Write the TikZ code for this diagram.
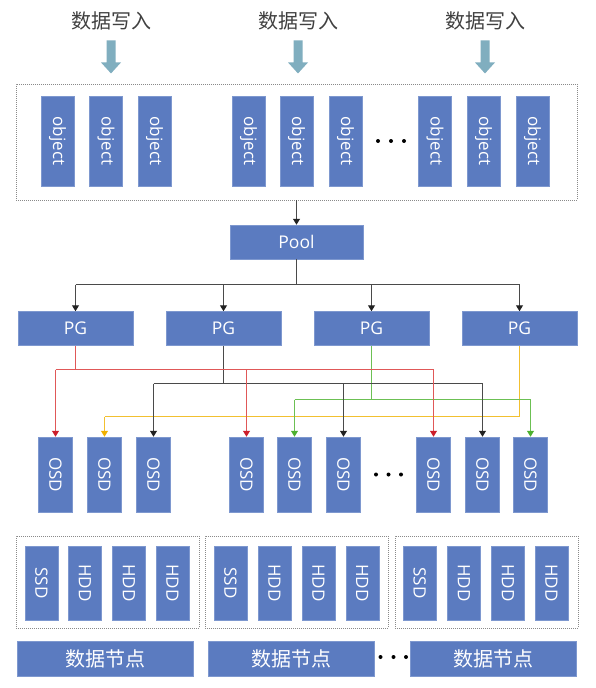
\documentclass[tikz,border=0pt]{standalone}
\usepackage{fontspec}
\usepackage{graphicx}
\setmainfont{Open Sans}
\newfontfamily\cjk{Noto Sans CJK SC}
\usetikzlibrary{arrows.meta}
\definecolor{boxblue}{HTML}{5B7BC0}
\definecolor{boxedge}{HTML}{7E98CF}
\definecolor{fatblue}{HTML}{80AEBF}
\definecolor{redln}{HTML}{E05858}
\definecolor{redtip}{HTML}{CC1E2A}
\definecolor{yelln}{HTML}{F2C030}
\definecolor{yeltip}{HTML}{F0B000}
\definecolor{grnln}{HTML}{6CC054}
\definecolor{grntip}{HTML}{4DB030}
\definecolor{blkln}{HTML}{4A4A4A}
\definecolor{blktip}{HTML}{222222}
\definecolor{titletext}{HTML}{404040}
\definecolor{dotgray}{HTML}{8A8A8A}
\tikzset{
  bluebox/.style={fill=boxblue, draw=boxedge, line width=0.5pt, inner sep=0pt, text=white},
  objbox/.style={bluebox, minimum width=33pt, minimum height=90pt, font=\fontsize{17}{17}\selectfont},
  osdbox/.style={bluebox, minimum width=34pt, minimum height=75pt, font=\fontsize{17}{17}\selectfont},
  diskbox/.style={bluebox, minimum width=33pt, minimum height=74pt, font=\fontsize{17}{17}\selectfont},
  pgbox/.style={bluebox, minimum width=115pt, minimum height=34pt, font=\fontsize{17.5}{17.5}\selectfont},
  nodebox/.style={bluebox, minimum height=35pt, font=\cjk\fontsize{20}{20}\selectfont},
  titletxt/.style={inner sep=0pt, text=titletext, font=\cjk\fontsize{20}{20}\selectfont},
  dotbox/.style={draw=dotgray, line width=0.7pt, dash pattern=on 0.7pt off 1.3pt, inner sep=0pt},
  conn/.style={line width=1.1pt},
  blkline/.style={conn, draw=blkln},
  redline/.style={conn, draw=redln},
  grnline/.style={conn, draw=grnln},
  yelline/.style={conn, draw=yelln},
  blkarrow/.style={-{Triangle[width=7pt,length=6pt,color=blktip]}},
  redarrow/.style={-{Triangle[width=7pt,length=6pt,color=redtip]}},
  grnarrow/.style={-{Triangle[width=7pt,length=6pt,color=grntip]}},
  yelarrow/.style={-{Triangle[width=7pt,length=6pt,color=yeltip]}},
}
\newcommand\fatdown[1]{%
  \fill[fatblue] ([shift={(-4.5,10)}]#1.south) -- ([shift={(4.5,10)}]#1.south)
    -- ([shift={(4.5,32)}]#1.south) -- ([shift={(10,32)}]#1.south)
    -- ([shift={(0,43)}]#1.south) -- ([shift={(-10,32)}]#1.south)
    -- ([shift={(-4.5,32)}]#1.south) -- cycle;}
\begin{document}
\begin{tikzpicture}[x=1pt,y=-1pt]
\useasboundingbox[fill=white] (0,0) rectangle (596,688);

% titles
\node[titletxt] (t1) at (111,21) {数据写入};
\node[titletxt] (t2) at (298,21) {数据写入};
\node[titletxt] (t3) at (485,21) {数据写入};
\fatdown{t1}\fatdown{t2}\fatdown{t3}

% objects
\node[dotbox, minimum width=561pt, minimum height=116pt] (objs) at (296.5,142) {};
\foreach \x [count=\i] in {57.5,106,154.5,248.5,296.5,345.5,435,483.5,532.5}
  \node[objbox] (o\i) at (\x,141) {\rotatebox{-90}{object}};
\foreach \x in {378,391,404} \fill[black] (\x,141) circle (2pt);

% pool
\node[pgbox, minimum width=133pt] (pool) at (296.5,242) {Pool};

% PGs
\node[pgbox] (pg1) at (75.5,328.5) {PG};
\node[pgbox] (pg2) at (223.5,328.5) {PG};
\node[pgbox] (pg3) at (371.5,328.5) {PG};
\node[pgbox] (pg4) at (519.5,328.5) {PG};

% OSDs
\foreach \x [count=\i] in {55.5,104.5,153.5,246.5,294.5,343.5,433.5,482.5,530.5}
  \node[osdbox] (osd\i) at (\x,474.5) {\rotatebox{-90}{OSD}};
\foreach \x in {376,388.5,401} \fill[black] (\x,474.5) circle (2pt);

% connectors objects -> pool -> PG
\draw[blkline, blkarrow] (objs.south) -- (pool.north);
\coordinate (ypool) at (0,284.5);
\draw[blkline] (pool.south) -- (pool.south |- ypool);
\draw[blkline] (pg1.north |- ypool) -- (pg4.north |- ypool);
\foreach \i in {1,...,4} \draw[blkline, blkarrow] (pg\i.north |- ypool) -- (pg\i.north);

% PG -> OSD
\coordinate (yred) at (0,369.5);
\coordinate (yblk) at (0,383.5);
\coordinate (ygrn) at (0,399.5);
\coordinate (yyel) at (0,416.5);

\draw[yelline] (pg4.south) -- (pg4.south |- yyel) -- (osd2.north |- yyel);
\draw[yelline, yelarrow] (osd2.north |- yyel) -- (osd2.north);

\draw[grnline] (pg3.south) -- (pg3.south |- ygrn);
\draw[grnline] (osd5.north |- ygrn) -- (osd9.north |- ygrn);
\foreach \i in {5,9} \draw[grnline, grnarrow] (osd\i.north |- ygrn) -- (osd\i.north);

\draw[blkline] (pg2.south) -- (pg2.south |- yblk);
\draw[blkline] (osd3.north |- yblk) -- (osd8.north |- yblk);
\foreach \i in {3,6,8} \draw[blkline, blkarrow] (osd\i.north |- yblk) -- (osd\i.north);

\draw[redline] (pg1.south) -- (pg1.south |- yred);
\draw[redline] (osd1.north |- yred) -- (osd7.north |- yred);
\foreach \i in {1,4,7} \draw[redline, redarrow] (osd\i.north |- yred) -- (osd\i.north);

% storage hosts
\node[dotbox, minimum width=183pt, minimum height=92pt] (h1) at (107.5,582) {};
\node[dotbox, minimum width=183pt, minimum height=92pt] (h2) at (296.5,582) {};
\node[dotbox, minimum width=183pt, minimum height=92pt] (h3) at (486.5,582) {};
\foreach \x/\t [count=\i] in {41.4/SSD,85/HDD,129/HDD,172.5/HDD,230.5/SSD,274.5/HDD,318.5/HDD,362.3/HDD,419.7/SSD,464/HDD,508/HDD,551.5/HDD}
  \node[diskbox] (d\i) at (\x,583) {\rotatebox{-90}{\t}};

% data nodes
\node[nodebox, minimum width=176pt] (n1) at (105,658.5) {数据节点};
\node[nodebox, minimum width=166pt] (n2) at (291.3,658.5) {数据节点};
\node[nodebox, minimum width=166pt] (n3) at (493.7,658.5) {数据节点};
\foreach \x in {380.5,393.5,406} \fill[black] (\x,657) circle (2pt);
\end{tikzpicture}
\end{document}
